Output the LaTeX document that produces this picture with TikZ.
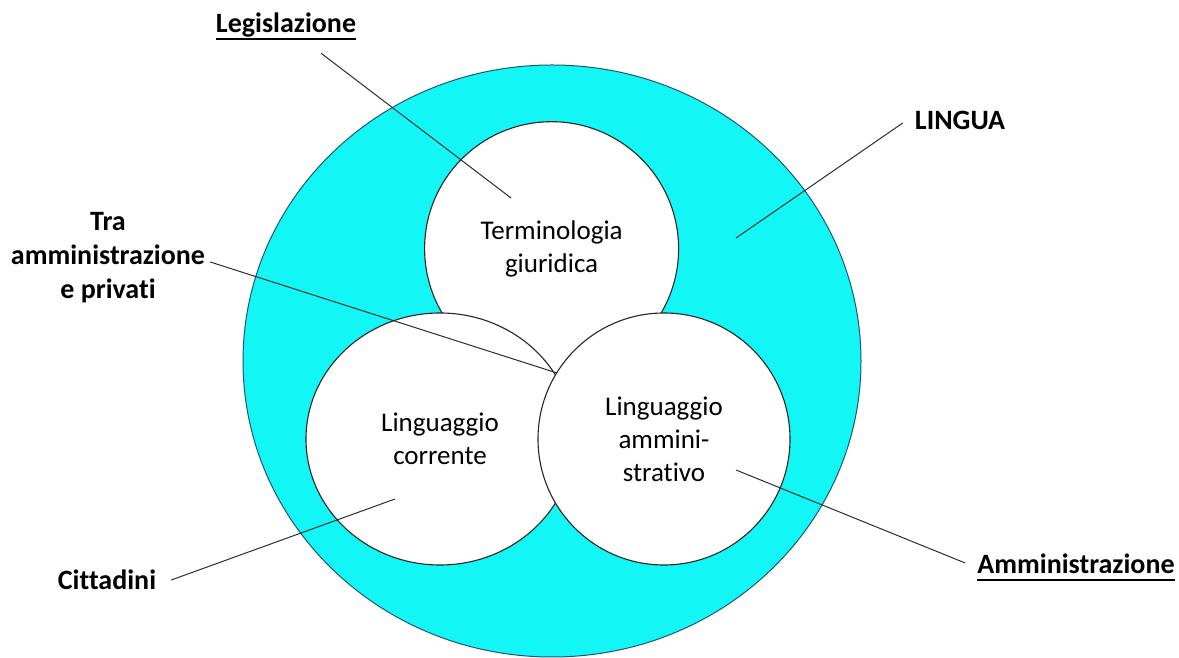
\documentclass[tikz,border=0pt]{standalone}
\usepackage{fontspec}
\setmainfont{Carlito}[Ligatures=NoCommon]
\usetikzlibrary{shapes.geometric}
\definecolor{linguacyan}{RGB}{18,246,246}
\definecolor{linguaedge}{RGB}{35,85,115}
\definecolor{leadgray}{RGB}{45,45,45}
\newcommand{\undl}[1]{\setbox0\hbox{#1}\rlap{\rule[-7pt]{\wd0}{2pt}}\box0}
\tikzset{
  area/.style={draw=black!85, fill=white, line width=1.1pt, inner sep=0pt, align=center, font=\fontsize{27}{33}\selectfont},
  lbl/.style={inner sep=0pt, align=center, font=\fontsize{28}{34}\selectfont\bfseries},
  onelbl/.style={lbl, text height=20pt, text depth=6pt, anchor=base},
  lead/.style={draw=leadgray, line width=1pt}
}

\begin{document}
\begin{tikzpicture}[x=1pt,y=1pt]
    \useasboundingbox (0,0) rectangle (1179,658);
    % outer area: the language
    \node[ellipse, draw=linguaedge, fill=linguacyan, line width=1pt, minimum width=618pt, minimum height=592pt] (lingua) at (552,297) {};
    % inner areas
    \node[area, circle, minimum size=254pt] (termin) at (551.6,409.3) {Terminologia\\giuridica};
    \node[area, ellipse, minimum width=268pt, minimum height=252pt] (corrente) at (440,219) {Linguaggio\\corrente};
    \node[area, circle, minimum size=252pt] (amminarea) at (664,219) {Linguaggio\\ammini-\\strativo};

    % labels
    \node[onelbl] (legis) at (286,625) {\undl{Legislazione}};
    \node[onelbl] (lingualbl) at (960,528) {LINGUA};
    \node[lbl] (tra) at (108,400) {Tra\\amministrazione\\e privati};
    \node[onelbl] (citta) at (107,68) {Cittadini};
    \node[onelbl] (ammin) at (1076,84) {\undl{Amministrazione}};

    % leader lines
    \coordinate (legisEnd) at (511,460);
    \coordinate (linguaEnd) at (736,420);
    \coordinate (traEnd) at (557,285);
    \coordinate (cittaEnd) at (395,159);
    \coordinate (amminEnd) at (736,188);
    \draw[lead] ([xshift=35pt,yshift=-14pt]legis.south) -- (legisEnd);
    \draw[lead] ([xshift=-12pt]lingualbl.west) -- (linguaEnd);
    \draw[lead] ([xshift=5pt,yshift=-4pt]tra.east) -- (traEnd);
    \draw[lead] ([xshift=15pt,yshift=3pt]citta.east) -- (cittaEnd);
    \draw[lead] ([xshift=-12pt,yshift=4pt]ammin.west) -- (amminEnd);
\end{tikzpicture}
\end{document}
